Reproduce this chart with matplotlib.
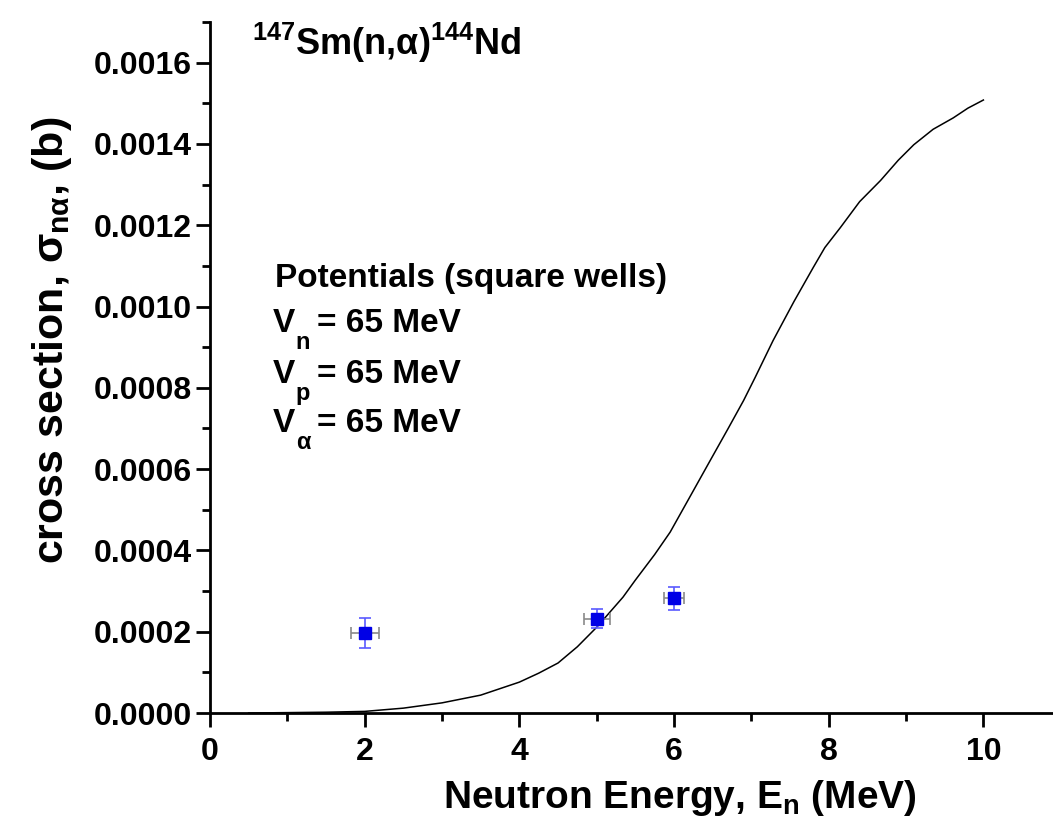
import matplotlib
matplotlib.use("Agg")
import matplotlib.pyplot as plt
from matplotlib.ticker import MultipleLocator, FormatStrFormatter
from matplotlib.transforms import offset_copy

plt.rcParams['font.family'] = ['Liberation Sans', 'DejaVu Sans']
plt.rcParams['font.weight'] = 'bold'
plt.rcParams['mathtext.fontset'] = 'custom'
plt.rcParams['mathtext.rm'] = 'Liberation Sans:bold'
plt.rcParams['mathtext.it'] = 'Liberation Sans:bold'
plt.rcParams['mathtext.bf'] = 'Liberation Sans:bold'

# theory curve (square wells, 65 MeV)
curve_E = [0.5, 1.0, 1.5, 2.0, 2.5, 3.0, 3.5, 4.0, 4.25, 4.5, 4.75, 5.0,
           5.34, 5.5, 5.75, 5.95, 6.2, 6.47, 6.7, 6.9, 7.05, 7.28, 7.55,
           7.8, 7.95, 8.15, 8.4, 8.67, 8.9, 9.1, 9.35, 9.61, 9.8, 10.0]
curve_sigma = [0.0, 0.000001, 0.000002, 0.000004, 0.000012, 0.000025,
               0.000044, 0.000076, 0.000098, 0.000123, 0.000163, 0.000211,
               0.000285, 0.000327, 0.000390, 0.000445, 0.000530, 0.000622,
               0.000700, 0.000769, 0.000826, 0.000916, 0.001012, 0.001096,
               0.001145, 0.001194, 0.001258, 0.001310, 0.001360, 0.001398,
               0.001436, 0.001464, 0.001488, 0.001508]

# measured points
exp_E = [2.0, 5.0, 6.0]
exp_sigma = [0.000197, 0.000232, 0.000282]
exp_sigma_err = [0.000036, 0.000024, 0.000029]
exp_E_err = [0.18, 0.17, 0.13]

pot_lines = [('n', '= 65 MeV'), ('p', '= 65 MeV'), (r'$\alpha$', '= 65 MeV')]

fig = plt.figure(figsize=(10.53, 8.32), dpi=100)
ax = fig.add_axes([0.1994, 0.143, 0.8006, 0.8306])

ax.plot(curve_E, curve_sigma, color='black', lw=1.1)

ax.errorbar(exp_E, exp_sigma, xerr=exp_E_err, fmt='none', ecolor='#8a8a8a',
            elinewidth=1.2, capsize=4.5, capthick=1.2)
ax.errorbar(exp_E, exp_sigma, yerr=exp_sigma_err, fmt='none', ecolor='#5a5aff',
            elinewidth=1.2, capsize=4.5, capthick=1.2)
ax.plot(exp_E, exp_sigma, 's', color='#0000e6', markersize=9, zorder=5)

ax.set_xlim(0, 10.9)
ax.set_ylim(0, 0.0017)
ax.spines['top'].set_visible(False)
ax.spines['right'].set_visible(False)
ax.spines['left'].set_linewidth(2)
ax.spines['bottom'].set_linewidth(2)

ax.xaxis.set_major_locator(MultipleLocator(2))
ax.xaxis.set_minor_locator(MultipleLocator(1))
ax.yaxis.set_major_locator(MultipleLocator(0.0002))
ax.yaxis.set_minor_locator(MultipleLocator(0.0001))
ax.yaxis.set_major_formatter(FormatStrFormatter('%.4f'))
ax.tick_params(which='major', length=10, width=2, labelsize=23)
ax.tick_params(axis='x', which='major', pad=7)
ax.tick_params(axis='y', which='major', pad=3)
ax.tick_params(which='minor', length=6, width=2)

ax.set_xlabel(r'Neutron Energy, E$_{\mathrm{n}}$ (MeV)', fontsize=28,
              fontweight='bold', labelpad=8, x=0.5575)
ax.set_ylabel(r'cross section, $\sigma_{\mathrm{n}\alpha}$, (b)', fontsize=31,
              fontweight='bold', labelpad=14, y=0.54)

ax.text(0.05, 0.952, r'$^{147}$Sm(n,$\alpha$)$^{144}$Nd', transform=ax.transAxes,
        fontsize=26, fontweight='bold', va='baseline', ha='left')

ax.text(0.0771, 0.6165, 'Potentials (square wells)', transform=ax.transAxes,
        fontsize=24, fontweight='bold', va='baseline', ha='left')
for i, (sub, rest) in enumerate(pot_lines):
    yb = [0.5514, 0.4776, 0.4067][i]
    ax.text(0.0747, yb, 'V', transform=ax.transAxes,
            fontsize=24, fontweight='bold', va='baseline', ha='left')
    ax.text(0.0747, yb, sub, fontsize=17, fontweight='bold', va='baseline',
            ha='left', transform=offset_copy(ax.transAxes, fig=fig, x=16.5, y=-12, units='points'))
    ax.text(0.0747, yb, rest, fontsize=24, fontweight='bold', va='baseline',
            ha='left', transform=offset_copy(ax.transAxes, fig=fig, x=31.5, y=0, units='points'))

fig.savefig('out.png', dpi=100)
